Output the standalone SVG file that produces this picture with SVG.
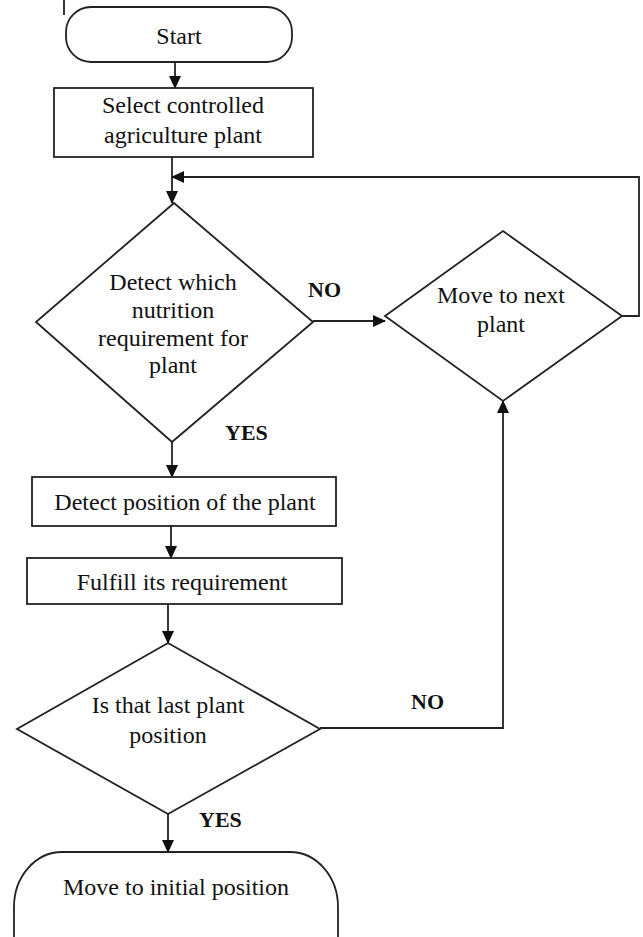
<svg xmlns="http://www.w3.org/2000/svg" width="643" height="937" viewBox="0 0 643 937">
<style>
.shape{fill:#fff;stroke:#222;stroke-width:1.8}
.line{fill:none;stroke:#222;stroke-width:1.8}
.t{font-family:"Liberation Serif","Times New Roman",serif;font-size:24px;fill:#111;text-anchor:middle}
.lbl{font-family:"Liberation Serif","Times New Roman",serif;font-size:22px;font-weight:bold;fill:#111}
</style>
<defs>
<marker id="ah" markerWidth="13" markerHeight="12" refX="12" refY="6" orient="auto" markerUnits="userSpaceOnUse">
<path d="M0,0 L13,6 L0,12 Z" fill="#111"/>
</marker>
</defs>
<rect width="643" height="937" fill="#fff"/>
<line x1="64" y1="0" x2="64" y2="15" class="line"/>
<g id="connectors">
<line x1="175" y1="62" x2="175" y2="88" class="line" marker-end="url(#ah)"/>
<line x1="172" y1="157" x2="172" y2="203" class="line" marker-end="url(#ah)"/>
<polyline points="622,316 639,316 639,177 172,177" class="line" marker-end="url(#ah)"/>
<polyline points="313,321 350,321 385,321" class="line" marker-end="url(#ah)"/>
<line x1="172" y1="442" x2="172" y2="477" class="line" marker-end="url(#ah)"/>
<line x1="171" y1="526" x2="171" y2="558" class="line" marker-end="url(#ah)"/>
<line x1="168" y1="604" x2="168" y2="643" class="line" marker-end="url(#ah)"/>
<polyline points="320,728 503,728 503,401" class="line" marker-end="url(#ah)"/>
<line x1="168" y1="814" x2="168" y2="852" class="line" marker-end="url(#ah)"/>
<text x="308" y="297" class="lbl">NO</text>
<text x="225" y="440" class="lbl">YES</text>
<text x="411" y="709" class="lbl">NO</text>
<text x="199" y="827" class="lbl">YES</text>
</g>
<g id="start">
<rect x="66" y="7" width="226" height="55" rx="25" ry="25" class="shape"/>
<text x="179" y="44" class="t">Start</text>
</g>
<g id="select">
<rect x="54" y="88" width="259" height="69" class="shape"/>
<text x="183" y="113" class="t">Select controlled</text>
<text x="183" y="143" class="t">agriculture plant</text>
</g>
<g id="detect-nutrition">
<polygon points="174,203 313,322 172,442 36,322" class="shape"/>
<text x="173" y="290" class="t">Detect which</text>
<text x="173" y="318" class="t">nutrition</text>
<text x="173" y="346" class="t">requirement for</text>
<text x="173" y="373" class="t">plant</text>
</g>
<g id="move-next">
<polygon points="503,231 622,316 503,401 385,316" class="shape"/>
<text x="501" y="303" class="t">Move to next</text>
<text x="501" y="332" class="t">plant</text>
</g>
<g id="detect-position">
<rect x="32" y="477" width="304" height="49" class="shape"/>
<text x="185" y="510" class="t">Detect position of the plant</text>
</g>
<g id="fulfill">
<rect x="27" y="558" width="315" height="46" class="shape"/>
<text x="182" y="590" class="t">Fulfill its requirement</text>
</g>
<g id="last-plant">
<polygon points="168,643 320,729 168,814 17,729" class="shape"/>
<text x="168" y="713" class="t">Is that last plant</text>
<text x="168" y="743" class="t">position</text>
</g>
<g id="end">
<rect x="14" y="852" width="324" height="140" rx="48" ry="55" class="shape"/>
<text x="176" y="895" class="t">Move to initial position</text>
</g>
</svg>
